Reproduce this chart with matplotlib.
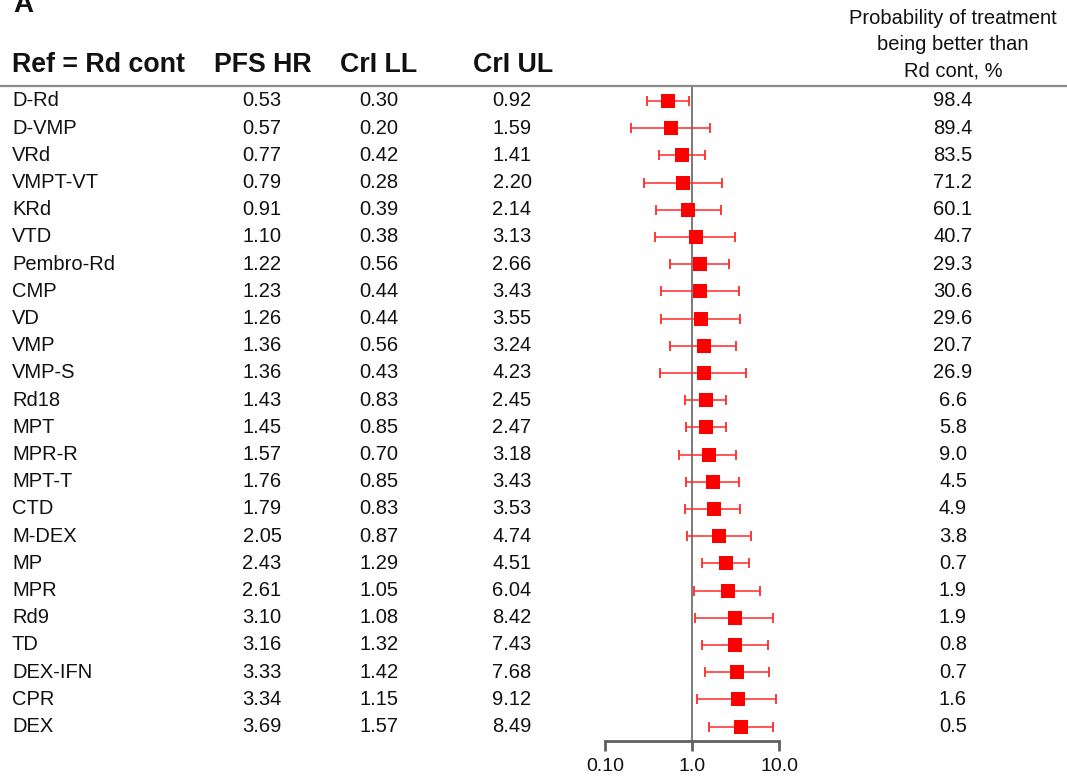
import matplotlib
matplotlib.use("Agg")
import matplotlib.pyplot as plt
from matplotlib import transforms
from matplotlib.lines import Line2D
from matplotlib.ticker import FixedLocator, NullLocator, FixedFormatter

plt.rcParams['font.family'] = ['Liberation Sans', 'DejaVu Sans']

treatments = ["D-Rd", "D-VMP", "VRd", "VMPT-VT", "KRd", "VTD", "Pembro-Rd", "CMP",
              "VD", "VMP", "VMP-S", "Rd18", "MPT", "MPR-R", "MPT-T", "CTD", "M-DEX",
              "MP", "MPR", "Rd9", "TD", "DEX-IFN", "CPR", "DEX"]
pfs_hr = [0.53, 0.57, 0.77, 0.79, 0.91, 1.10, 1.22, 1.23, 1.26, 1.36, 1.36, 1.43,
          1.45, 1.57, 1.76, 1.79, 2.05, 2.43, 2.61, 3.10, 3.16, 3.33, 3.34, 3.69]
cri_ll = [0.30, 0.20, 0.42, 0.28, 0.39, 0.38, 0.56, 0.44, 0.44, 0.56, 0.43, 0.83,
          0.85, 0.70, 0.85, 0.83, 0.87, 1.29, 1.05, 1.08, 1.32, 1.42, 1.15, 1.57]
cri_ul = [0.92, 1.59, 1.41, 2.20, 2.14, 3.13, 2.66, 3.43, 3.55, 3.24, 4.23, 2.45,
          2.47, 3.18, 3.43, 3.53, 4.74, 4.51, 6.04, 8.42, 7.43, 7.68, 9.12, 8.49]
prob_better = [98.4, 89.4, 83.5, 71.2, 60.1, 40.7, 29.3, 30.6, 29.6, 20.7, 26.9, 6.6,
               5.8, 9.0, 4.5, 4.9, 3.8, 0.7, 1.9, 1.9, 0.8, 0.7, 1.6, 0.5]
x_ticks = [0.1, 1.0, 10.0]
x_tick_labels = ["0.10", "1.0", "10.0"]
col_headers = ["Ref = Rd cont", "PFS HR", "CrI LL", "CrI UL"]
prob_header = ["Probability of treatment", "being better than", "Rd cont, %"]

W, H = 1067, 780
fig = plt.figure(figsize=(W / 100, H / 100), dpi=100)

def fx(px):
    return px / W

def fy(py):
    return 1 - py / H

row0, step = 101.0, 27.2
top_px, bot_px = 86.0, 741.0
ax = fig.add_axes([fx(605), fy(bot_px), fx(779) - fx(605), (bot_px - top_px) / H])
ax.set_xscale('log')
ax.set_xlim(0.1, 10)
ax.set_ylim((bot_px - row0) / step, (top_px - row0) / step)

n = len(treatments)
ys = list(range(n))
err_lo = [h - l for h, l in zip(pfs_hr, cri_ll)]
err_hi = [u - h for h, u in zip(pfs_hr, cri_ul)]

ax.axvline(1.0, color='#707070', lw=1.3, zorder=1)
ax.errorbar(pfs_hr, ys, xerr=[err_lo, err_hi], fmt='none', ecolor='#ff2a2a',
            elinewidth=1.1, capsize=3.5, capthick=1.3, zorder=2)
ax.plot(pfs_hr, ys, 's', color='#ff0000', markersize=9.8, markeredgewidth=0, zorder=3)

for s in ['left', 'top', 'right']:
    ax.spines[s].set_visible(False)
ax.spines['bottom'].set_color('#606060')
ax.spines['bottom'].set_linewidth(2.0)
ax.yaxis.set_visible(False)
ax.xaxis.set_major_locator(FixedLocator(x_ticks))
ax.xaxis.set_major_formatter(FixedFormatter(x_tick_labels))
ax.xaxis.set_minor_locator(NullLocator())
ax.tick_params(axis='x', direction='out', length=7, width=2.0, color='#606060',
               labelsize=14, pad=5, labelcolor='#111111')
ax.patch.set_visible(False)

# header line
fig.add_artist(Line2D([0, 1], [fy(top_px), fy(top_px)], transform=fig.transFigure,
                      color='#8a8a8a', lw=1.6))

trans = transforms.blended_transform_factory(fig.transFigure, ax.transData)
body = dict(fontsize=14.5, color='#111111', va='center', transform=trans)
for i in range(n):
    fig.text(fx(12), i, treatments[i], ha='left', **body)
    fig.text(fx(262), i, f"{pfs_hr[i]:.2f}", ha='center', **body)
    fig.text(fx(379), i, f"{cri_ll[i]:.2f}", ha='center', **body)
    fig.text(fx(512), i, f"{cri_ul[i]:.2f}", ha='center', **body)
    fig.text(fx(953), i, f"{prob_better[i]:.1f}", ha='center', **body)

hdr = dict(fontsize=19.3, fontweight='bold', color='#111111', va='center')
fig.text(fx(12), fy(65), col_headers[0], ha='left', **hdr)
fig.text(fx(263), fy(65), col_headers[1], ha='center', **hdr)
fig.text(fx(379), fy(65), col_headers[2], ha='center', **hdr)
fig.text(fx(513), fy(65), col_headers[3], ha='center', **hdr)

for k, line in enumerate(prob_header):
    fig.text(fx(953), fy(19 + 26 * k), line, ha='center', va='center',
             fontsize=14.5, color='#111111')

fig.text(fx(13), fy(12), "A", ha='left', va='baseline', fontsize=20,
         fontweight='bold', color='#111111')

fig.savefig("out.png", dpi=100)
